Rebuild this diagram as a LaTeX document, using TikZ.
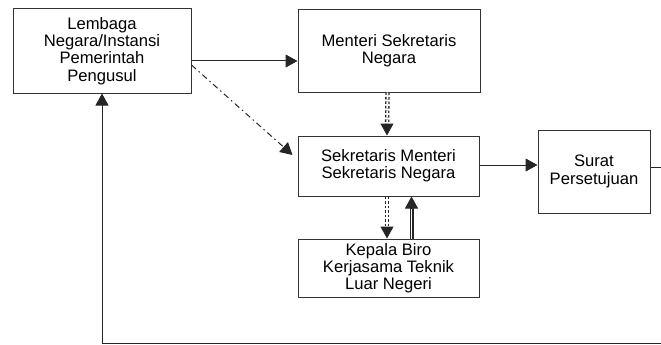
\documentclass[tikz,border=0pt]{standalone}
\usepackage{fontspec}
\setmainfont{Liberation Sans}
\usepackage{tikz}
\usetikzlibrary{arrows.meta, positioning, calc}

\begin{document}
\begin{tikzpicture}[x=1pt, y=-1pt,
    box/.style={draw=black!80, line width=1pt, align=center, inner sep=0pt,
        font=\fontsize{16.6}{17.2}\selectfont},
    tip/.style={-{Triangle[width=13pt,length=12pt]}},
    link/.style={tip, line width=1pt, draw=black!85},
    dotdbl/.style={draw=black!85, line width=1.3pt, double distance=1.8pt,
        dash pattern=on 2.5pt off 2pt},
    soliddbl/.style={draw=black!85, line width=1.1pt, double distance=1.8pt},
    dashdot/.style={link, dash pattern=on 6pt off 3.5pt on 1.5pt off 3.5pt}]
    \useasboundingbox (0,0) rectangle (661,345);

    % Boxes
    \node[box, minimum width=178pt, minimum height=84pt] (pengusul) at (102,51)
        {Lembaga\\Negara/Instansi\\Pemerintah\\Pengusul};
    \node[box, minimum width=182pt, minimum height=82pt] (menteri) at (389,51)
        {Menteri Sekretaris\\Negara};
    \node[box, minimum width=181pt, minimum height=60pt] (sesmen) at (388.5,166)
        {Sekretaris Menteri\\Sekretaris Negara};
    \node[box, minimum width=181pt, minimum height=58pt] (biro) at (388.5,268)
        {Kepala Biro\\Kerjasama Teknik\\Luar Negeri};
    \node[box, minimum width=112pt, minimum height=83pt] (surat) at (594,171.5)
        {Surat\\Persetujuan};

    % Free ends at the right border
    \coordinate (kanan) at (661,167);
    \coordinate (bawah) at (661,343);

    % Arrows
    \draw[link] ([yshift=-10pt]pengusul.east) -- ([yshift=-10pt]pengusul.east -| menteri.west);
    \draw[dashdot] ([yshift=-14pt]pengusul.east) -- ([xshift=-5pt,yshift=11pt]sesmen.west);
    \draw[link] ([yshift=1pt]sesmen.east) -- ([yshift=1pt]sesmen.east -| surat.west);
    \draw[draw=black!85, line width=1pt] (surat.east |- kanan) -- (kanan);
    \draw[link] (bawah) -- (bawah -| pengusul.south) -- (pengusul.south);

    % Double lines between the middle boxes
    \draw[dotdbl, shorten >=11pt] ([xshift=-1.5pt]menteri.south) -- ([xshift=-1.5pt]sesmen.north);
    \draw[link] ([xshift=-1.5pt,yshift=12pt]sesmen.north) -- ([xshift=-1.5pt]sesmen.north);
    \draw[dotdbl, shorten >=11pt] ([xshift=-1.5pt]sesmen.south) -- ([xshift=-1.5pt]biro.north);
    \draw[link] ([xshift=-1.5pt,yshift=12pt]biro.north) -- ([xshift=-1.5pt]biro.north);
    \draw[soliddbl, shorten >=11pt] ([xshift=23pt]biro.north) -- ([xshift=23pt]sesmen.south);
    \draw[link] ([xshift=23pt,yshift=-12pt]sesmen.south) -- ([xshift=23pt]sesmen.south);
\end{tikzpicture}
\end{document}
